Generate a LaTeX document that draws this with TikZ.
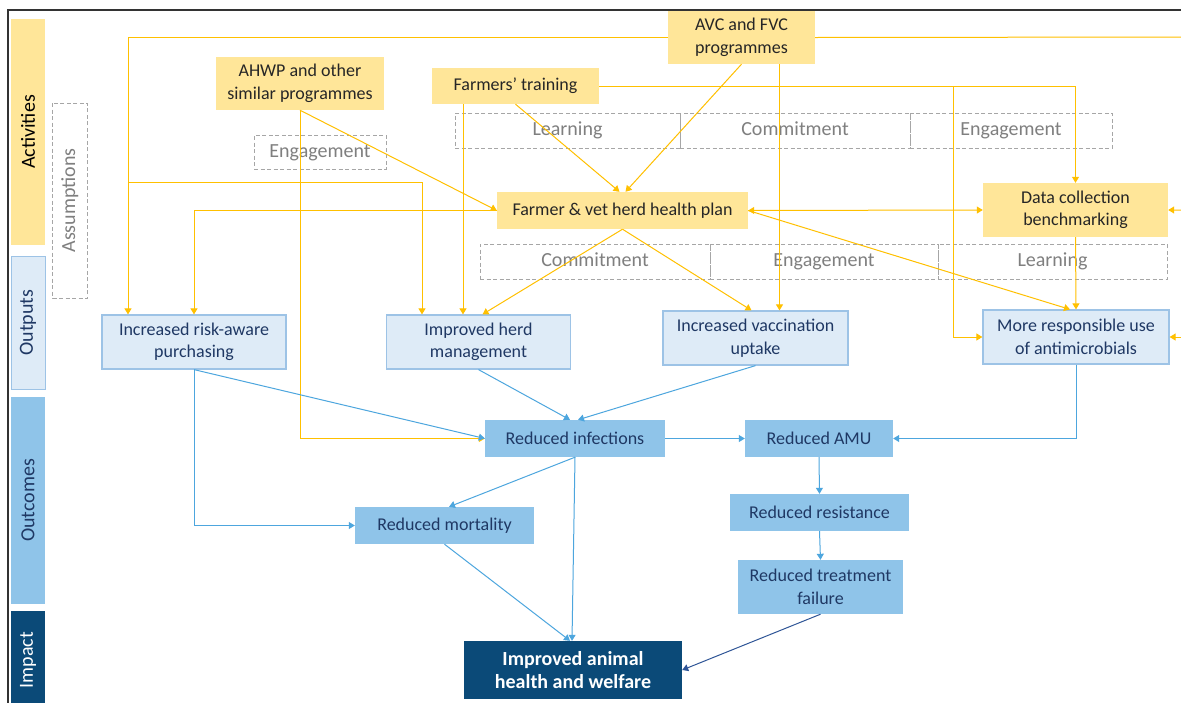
\documentclass[tikz,border=0pt]{standalone}
\usepackage{fontspec}
\setmainfont{Carlito}
\usetikzlibrary{arrows.meta}
\definecolor{actY}{HTML}{FFE699}\definecolor{ylw}{HTML}{FFC000}
\definecolor{outL}{HTML}{DEEBF7}\definecolor{outB}{HTML}{9DC3E6}
\definecolor{ocB}{HTML}{8FC4E9}\definecolor{impB}{HTML}{0B4A78}
\definecolor{navyT}{HTML}{1F3864}\definecolor{blln}{HTML}{4DA6DE}
\definecolor{dkln}{HTML}{2F5597}\definecolor{grayD}{HTML}{A6A6A6}
\definecolor{grayT}{HTML}{7F7F7F}
\newcommand{\fsz}[1]{\fontsize{#1}{22.5}\selectfont}
\tikzset{>={Triangle[length=6pt,width=7pt]},
sz/.style 2 args={minimum width=#1,minimum height=#2},
act/.style={fill=actY,text=black!85,align=center,inner sep=0pt,font=\fsz{18}},
outp/.style={fill=outL,draw=outB,line width=1.2pt,text=navyT,align=center,inner sep=0pt,font=\fsz{18}},
outc/.style={fill=ocB,text=navyT,align=center,inner sep=0pt,font=\fsz{18}},
dbox/.style={draw=grayD,line width=1pt,dash pattern=on 4pt off 2.5pt,text=grayT,inner sep=0pt,text height=14pt,text depth=4pt,font=\fsz{20}},
stage/.style={rotate=90,inner sep=0pt,font=\fsz{20}},
yl/.style={draw=ylw,line width=1pt,->},
bl/.style={draw=blln,line width=1pt,->}}
\begin{document}
\begin{tikzpicture}[x=1pt,y=-1pt]
\useasboundingbox (0,0) rectangle (1181,702);\clip (0,0) rectangle (1181,702);
\fill[white] (0,0) rectangle (1181,702);
\draw[line width=1.5pt,black!80] (8,710)--(8,10)--(1190,10);
\node[stage,fill=actY,sz={226}{34}] (sAct) at (28,132) {Activities};
\node[stage,fill=outL,draw=outB,line width=1pt,text=navyT,sz={133}{34}] (sOut) at (28,322.5) {Outputs};
\node[stage,fill=ocB,text=navyT,sz={207}{34}] (sOc) at (28,500.5) {Outcomes};
\node[stage,fill=impB,text=white,sz={98}{34}] (sImp) at (28,660) {Impact};
\node[stage,dbox,sz={195}{35}] (assum) at (70,200.5) {Assumptions};
\node[act,sz={147}{53}] (avc) at (741.5,37.5) {AVC and FVC\\programmes};
\node[act,sz={168}{53}] (ahwp) at (300,83.5) {AHWP and other\\similar programmes};
\node[act,sz={167}{36}] (train) at (515.5,86) {Farmers’ training};
\node[act,sz={251}{37}] (plan) at (622.5,210.5) {Farmer \& vet herd health plan};
\node[act,sz={185}{54}] (dcb) at (1075.5,210) {Data collection\\benchmarking};
\node[dbox,sz={132}{34}] (eng0) at (320,152) {Engagement};
\node[dbox,sz={225}{35}] (learnA) at (567.5,130.5) {Learning};
\node[dbox,sz={230}{35}] (commA) at (795,130.5) {Commitment};
\node[dbox,sz={202}{35}] (engA) at (1011,130.5) {Engagement};
\node[dbox,sz={230}{35}] (commB) at (595,261.5) {Commitment};
\node[dbox,sz={228}{35}] (engB) at (824,261.5) {Engagement};
\node[dbox,sz={229}{35}] (learnB) at (1052.5,261.5) {Learning};
\node[outp,sz={184}{54}] (purch) at (194,342) {Increased risk-aware\\purchasing};
\node[outp,sz={184}{54}] (herd) at (478.5,342) {Improved herd\\management};
\node[outp,sz={185}{54}] (vacc) at (755.5,338) {Increased vaccination\\uptake};
\node[outp,sz={186}{54}] (resp) at (1076,337) {More responsible use\\of antimicrobials};
\node[outc,sz={180}{37}] (infect) at (575,438.5) {Reduced infections};
\node[outc,sz={148}{37}] (amu) at (819,438.5) {Reduced AMU};
\node[outc,sz={179}{37}] (mort) at (444.5,525.5) {Reduced mortality};
\node[outc,sz={179}{37}] (res) at (819.5,512.5) {Reduced resistance};
\node[outc,sz={165}{54}] (tf) at (820.5,587) {Reduced treatment\\failure};
\node[fill=impB,text=white,align=center,inner sep=0pt,font=\bfseries\fsz{20},sz={218}{58}] (impact) at (573,670) {Improved animal\\health and welfare};
\coordinate (b1) at (128,182);\coordinate (b2) at (953,86);
\coordinate (rt) at (1195,37);\coordinate (rt2) at (1195,210);
\draw[yl] (avc.west) -| ([xshift=-66]purch.north);\draw[yl] (b1) -| ([xshift=-56.5]herd.north);
\draw[yl] (avc.south) -- ([xshift=3]plan.north);\draw[yl] ([xshift=38]avc.south) -- ([xshift=24]vacc.north);
\draw[yl] (avc.east) -- (rt) |- (dcb.east);\draw[yl] (rt2) |- (resp.east);
\draw[yl] (ahwp.south) -- (plan.west);\draw[yl] (ahwp.south) |- (infect.west);
\draw[yl] (train.south) -- ([xshift=-3]plan.north);\draw[yl] ([xshift=-52.5]train.south) -- ([xshift=-15.5]herd.north);
\draw[yl] (train.east) -| (dcb.north);\draw[yl] (b2) |- (resp.west);
\draw[yl] (plan.west) -| (purch.north);\draw[yl,<->] (plan.east) -- (dcb.west);
\draw[yl] (plan.east) -- ([xshift=-6]resp.north);
\draw[yl] (plan.south) -- ([xshift=4]herd.north);\draw[yl] (plan.south) -- ([xshift=-4]vacc.north);
\draw[yl] (dcb.south) -- (resp.north);
\draw[bl] (purch.south) -- (infect.west);\draw[bl] (purch.south) |- (mort.west);
\draw[bl] (herd.south) -- ([xshift=-5]infect.north);\draw[bl] (vacc.south) -- ([xshift=3]infect.north);
\draw[bl] (infect.east) -- (amu.west);\draw[bl] (infect.south) -- ([xshift=4.5]mort.north);
\draw[bl] (infect.south) -- ([xshift=-1]impact.north);\draw[bl] (mort.south) -- ([xshift=-3]impact.north);
\draw[bl] (resp.south) |- (amu.east);\draw[bl] (amu.south) -- (res.north);
\draw[bl] (res.south) -- (tf.north);\draw[bl,draw=dkln] (tf.south) -- (impact.east);
\end{tikzpicture}
\end{document}
